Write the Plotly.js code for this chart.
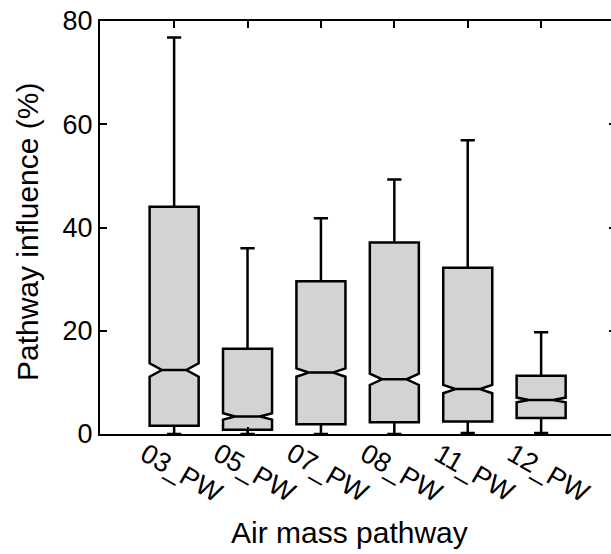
<!DOCTYPE html>
<html>
<head>
<meta charset="utf-8">
<script src="https://cdn.plot.ly/plotly-3.0.1.min.js"></script>
<style>
  html, body { margin: 0; padding: 0; overflow: hidden; background: #fff; }
  #chart { width: 620px; height: 554px; }
</style>
</head>
<body>
<div id="chart"></div>
<script>
// Air mass pathway categories
const categories = ['03_PW', '05_PW', '07_PW', '08_PW', '11_PW', '12_PW'];
// Box statistics (Pathway influence, %)
const lowerWhisker = [0, 0, 0, 0, 0.2, 0.2];
const q1Values     = [1.6, 0.8, 1.9, 2.3, 2.4, 3.1];
const medians      = [12.4, 3.4, 11.9, 10.6, 8.7, 6.6];
const q3Values     = [44.0, 16.5, 29.6, 37.1, 32.2, 11.3];
const upperWhisker = [76.8, 36.0, 41.8, 49.3, 56.9, 19.7];
const notchSpans   = [1.3, 0.62, 0.8, 1.1, 0.8, 0.45];
// Y tick values
const yTicks = [0, 20, 40, 60, 80];

const FONT = 'Liberation Sans, Arial, Helvetica, sans-serif';

const trace = {
  type: 'box',
  x: categories,
  q1: q1Values,
  median: medians,
  q3: q3Values,
  lowerfence: lowerWhisker,
  upperfence: upperWhisker,
  notched: true,
  notchspan: notchSpans,
  notchwidth: 0.25,
  width: 0.668,
  whiskerwidth: 0.29,
  fillcolor: '#d3d3d4',
  line: { color: '#000', width: 2.5 },
  boxpoints: false,
  hoverinfo: 'skip'
};

const annotations = categories.map(c => ({
  text: c,
  x: c, xref: 'x',
  y: -0.095, yref: 'paper',
  xanchor: 'center', yanchor: 'middle',
  xshift: 7,
  textangle: 30,
  showarrow: false,
  font: { family: FONT, size: 27, color: '#000' }
}));

annotations.push({
  text: 'Air mass pathway',
  x: 0.4826, xref: 'paper',
  y: -0.2397, yref: 'paper',
  xanchor: 'center', yanchor: 'middle',
  showarrow: false,
  font: { family: FONT, size: 30, color: '#000' }
});
annotations.push({
  text: 'Pathway influence (%)',
  x: -0.1415, xref: 'paper',
  y: 0.489, yref: 'paper',
  xanchor: 'center', yanchor: 'middle',
  textangle: -90,
  showarrow: false,
  font: { family: FONT, size: 30, color: '#000' }
});

const layout = {
  width: 620,
  height: 554,
  margin: { l: 100, r: 4, t: 21, b: 120, pad: 0 },
  paper_bgcolor: '#fff',
  plot_bgcolor: '#fff',
  showlegend: false,
  font: { family: FONT, size: 27, color: '#000' },
  xaxis: {
    type: 'category',
    range: [-1.01, 6.02],
    showline: true, linewidth: 2, linecolor: '#000',
    mirror: 'ticks',
    ticks: 'inside', ticklen: 7, tickwidth: 2, tickcolor: '#000',
    showticklabels: false,
    showgrid: false, zeroline: false
  },
  yaxis: {
    range: [0, 80],
    tickvals: yTicks,
    ticktext: yTicks.map(String),
    showline: true, linewidth: 2, linecolor: '#000',
    mirror: 'ticks',
    ticks: 'inside', ticklen: 7, tickwidth: 2, tickcolor: '#000',
    tickfont: { family: FONT, size: 27, color: '#000' },
    showgrid: false, zeroline: false
  },
  annotations: annotations
};

Plotly.newPlot('chart', [trace], layout, { displayModeBar: false, staticPlot: true });
</script>
</body>
</html>
